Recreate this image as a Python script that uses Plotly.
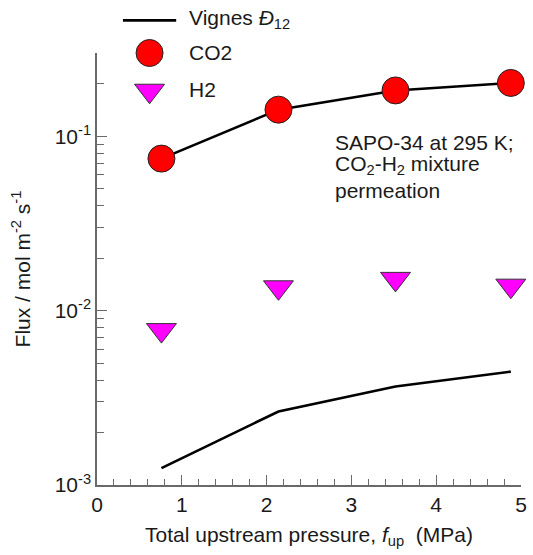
import plotly.graph_objects as go

# Upstream pressure (MPa) at which the permeation runs were made
pressure = [0.76, 2.14, 3.52, 4.88]

# Measured fluxes, mol m^-2 s^-1
flux_co2 = [0.0744, 0.142, 0.183, 0.202]
flux_h2 = [0.00773, 0.0136, 0.0152, 0.0139]

# Maxwell-Stefan predictions with the Vignes interpolation for the exchange coefficient
vignes_co2 = [0.0744, 0.142, 0.183, 0.202]
vignes_h2 = [0.00125, 0.00264, 0.00367, 0.00447]

x_ticks = [0, 1, 2, 3, 4, 5]
y_ticks = [1e-3, 1e-2, 1e-1]
y_tick_text = ["10<sup>-3</sup>", "10<sup>-2</sup>", "10<sup>-1</sup>"]
y_minor = [m * 10.0 ** e for e in (-3, -2) for m in range(2, 10)] + [0.2, 0.3]

W, H = 533, 555
L, R, T, B = 96.7, 526.7, 53.3, 485.0
FONT = "Liberation Sans, Arial, sans-serif"
TXT = "#1a1a1a"
AX = "#6a6a6a"
FS = 21


def px(x):
    return (x - L) / (R - L)


def py(y):
    return (B - y) / (B - T)


fig = go.Figure()

line_style = dict(color="black", width=2.6)
circle_style = dict(symbol="circle", size=27, color="#ff0000", opacity=1,
                    line=dict(color="#222222", width=1))
tri_style = dict(symbol="triangle-down", size=26, color="#ff00ff", opacity=1,
                 line=dict(color="#333333", width=1))

fig.add_trace(go.Scatter(x=pressure, y=vignes_co2, mode="lines", line=line_style,
                         showlegend=False))
fig.add_trace(go.Scatter(x=pressure, y=vignes_h2, mode="lines", line=line_style,
                         showlegend=False))
fig.add_trace(go.Scatter(x=pressure, y=flux_co2, mode="markers", marker=circle_style,
                         cliponaxis=False, showlegend=False))
fig.add_trace(go.Scatter(x=pressure, y=flux_h2, mode="markers", marker=tri_style,
                         cliponaxis=False, showlegend=False))

# Hand-drawn key: glyphs on an overlay axis measured in pixels
for yk, style in ((53.3, circle_style), (91, tri_style)):
    fig.add_trace(go.Scatter(x=[150], y=[yk], mode="markers", marker=style,
                             xaxis="x2", yaxis="y2", cliponaxis=False, showlegend=False))
fig.add_shape(type="line", xref="paper", yref="paper",
              x0=px(123), x1=px(177), y0=py(20.7), y1=py(20.7),
              line=dict(color="black", width=2.6))

key_labels = [("Vignes <i>Đ</i><sub>12</sub>", 19), ("CO2", 53), ("H2", 90)]
for text, yc in key_labels:
    fig.add_annotation(text=text, xref="paper", yref="paper", x=px(188), y=py(yc),
                       xanchor="left", yanchor="middle", showarrow=False,
                       font=dict(family=FONT, size=FS, color=TXT))

note_lines = [("SAPO-34 at 295 K;", 143), ("CO<sub>2</sub>-H<sub>2</sub> mixture", 165.5),
              ("permeation", 191)]
for text, yc in note_lines:
    fig.add_annotation(text=text, xref="paper", yref="paper", x=px(336), y=py(yc),
                       xanchor="left", yanchor="middle", showarrow=False,
                       font=dict(family=FONT, size=FS, color=TXT))

fig.update_layout(
    width=W, height=H,
    margin=dict(l=L, r=W - R, t=T, b=H - B, pad=0),
    paper_bgcolor="white", plot_bgcolor="white",
    font=dict(family=FONT, size=FS, color=TXT),
    showlegend=False,
    xaxis=dict(
        range=[0, 5], tickvals=x_ticks, ticks="inside", ticklen=10, tickwidth=1.2,
        tickcolor=AX, showline=True, linecolor=AX, linewidth=1.5, showgrid=False,
        zeroline=False, mirror=False,
        minor=dict(dtick=0.2, ticks="inside", ticklen=6, tickwidth=1.2, tickcolor=AX,
                   showgrid=False),
        tickfont=dict(family=FONT, size=FS, color=TXT),
        title=dict(text="Total upstream pressure, <i>f</i><sub>up</sub>  (MPa)",
                   font=dict(family=FONT, size=FS, color=TXT), standoff=12),
    ),
    yaxis=dict(
        type="log", range=[-3, -0.5229], tickmode="array", tickvals=y_ticks,
        ticktext=y_tick_text, ticks="inside", ticklen=10, tickwidth=1.2, tickcolor=AX,
        showline=True, linecolor=AX, linewidth=1.5, showgrid=False, zeroline=False,
        minor=dict(tickmode="array", tickvals=y_minor, ticks="inside", ticklen=7,
                   tickwidth=1.2, tickcolor=AX, showgrid=False),
        tickfont=dict(family=FONT, size=FS, color=TXT),
        title=dict(text="Flux / mol m<sup>-2</sup> s<sup>-1</sup>",
                   font=dict(family=FONT, size=FS, color=TXT), standoff=18),
    ),
    xaxis2=dict(range=[L, R], overlaying="x", visible=False, fixedrange=True),
    yaxis2=dict(range=[B, T], overlaying="y", visible=False, fixedrange=True),
)

fig.write_html("out.html")
